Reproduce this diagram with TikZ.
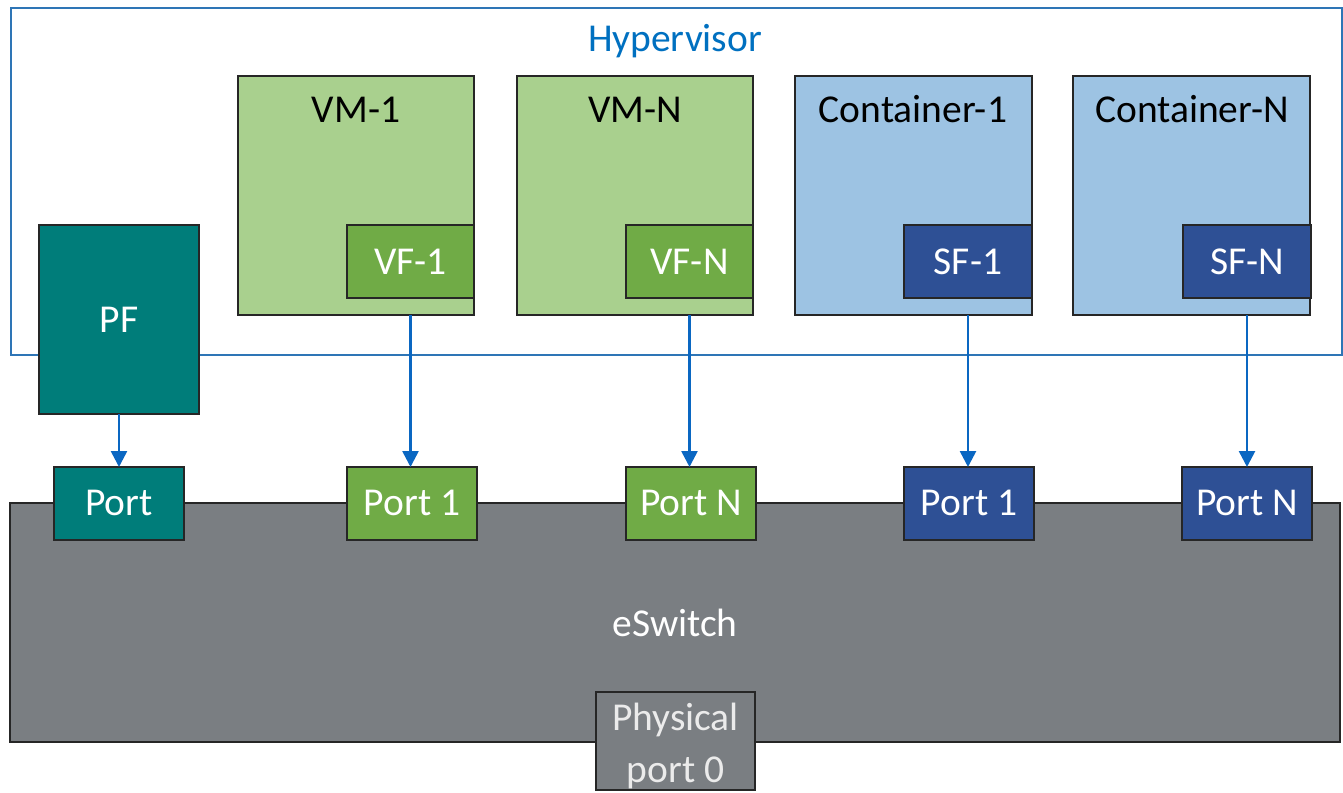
\documentclass[tikz,border=0pt]{standalone}
\usepackage{fontspec}
\setmainfont{Carlito}
\usetikzlibrary{arrows.meta}
\definecolor{hvblue}{HTML}{2E75B6}
\definecolor{hvtext}{HTML}{0070C0}
\definecolor{arrowblue}{HTML}{0A67C2}
\definecolor{vmfill}{HTML}{A9D08E}
\definecolor{vffill}{HTML}{70AB46}
\definecolor{ctfill}{HTML}{9DC3E3}
\definecolor{sffill}{HTML}{2E5095}
\definecolor{pffill}{HTML}{007D7A}
\definecolor{swfill}{HTML}{7A7E82}
\begin{document}
\begin{tikzpicture}[x=1pt,y=-1pt,
  font=\fontsize{39.5}{46}\selectfont,
  box/.style={draw=black!85, line width=1.5pt, inner sep=0pt, outer sep=0pt, anchor=north west},
  vmbox/.style={box, fill=vmfill, minimum width=236, minimum height=239},
  ctbox/.style={box, fill=ctfill, minimum width=237, minimum height=239},
  vfbox/.style={box, fill=vffill, minimum width=127, minimum height=73},
  sfbox/.style={box, fill=sffill, minimum width=128, minimum height=73},
  portbox/.style={box, minimum width=130, minimum height=73},
  lbl/.style={anchor=base, inner sep=0pt},
  wlbl/.style={lbl, text=white},
  conn/.style={draw=arrowblue, line width=2.6pt, -{Triangle[length=16pt,width=16pt]}}
]
\useasboundingbox (0,0) rectangle (1343,792);

% hypervisor frame
\node[draw=hvblue, line width=1.8pt, inner sep=0pt, anchor=north west, minimum width=1331, minimum height=347] (hv) at (10,7) {};
\node[lbl, text=hvtext] (hvlabel) at (675,52) {Hypervisor};

% eSwitch
\node[box, fill=swfill, minimum width=1330, minimum height=239] (esw) at (10,503) {};
\node[wlbl] (eswlabel) at (675,636) {eSwitch};

% VMs and containers
\node[vmbox] (vm1) at (238,76) {};
\node[lbl] (vm1l) at (356,122) {VM-1};
\node[vmbox] (vmn) at (517,76) {};
\node[lbl] (vmnl) at (635,122) {VM-N};
\node[ctbox] (ct1) at (795,76) {};
\node[lbl] (ct1l) at (913,122) {Container-1};
\node[ctbox] (ctn) at (1073,76) {};
\node[lbl] (ctnl) at (1192,122) {Container-N};

\node[vfbox] (vf1) at (347,225) {};
\node[wlbl] at (vf1.center |- 0,274) {VF-1};
\node[vfbox] (vfn) at (626,225) {};
\node[wlbl] at (vfn.center |- 0,274) {VF-N};
\node[sfbox] (sf1) at (904,225) {};
\node[wlbl] at (sf1.center |- 0,274) {SF-1};
\node[sfbox] (sfn) at (1183,225) {};
\node[wlbl] at (sfn.center |- 0,274) {SF-N};

% PF
\node[box, fill=pffill, minimum width=160, minimum height=189] (pf) at (39,225) {};
\node[wlbl] at (pf.center |- 0,332) {PF};

% ports
\node[portbox, fill=pffill] (p0) at (54,467) {};
\node[wlbl] at (p0.center |- 0,515) {Port};
\node[portbox, fill=vffill] (p1) at (347,467) {};
\node[wlbl] at (p1.center |- 0,515) {Port 1};
\node[portbox, fill=vffill] (p2) at (626,467) {};
\node[wlbl] at (p2.center |- 0,515) {Port N};
\node[portbox, fill=sffill] (p3) at (904,467) {};
\node[wlbl] at (p3.center |- 0,515) {Port 1};
\node[portbox, fill=sffill] (p4) at (1182,467) {};
\node[wlbl] at (p4.center |- 0,515) {Port N};

% physical port
\node[box, fill=swfill, minimum width=159, minimum height=98] (phy) at (596,692) {};
\node[wlbl, text=white!92!black, align=center, font=\fontsize{39.5}{52}\selectfont] (phyl) at (675.5,782) {Physical\\port 0};

% connectors
\draw[conn] (pf.south) -- (p0.north);
\draw[conn] (vm1.south -| vf1.south) -- (p1.north -| vf1.south);
\draw[conn] (vmn.south -| vfn.south) -- (p2.north -| vfn.south);
\draw[conn] (ct1.south -| sf1.south) -- (p3.north -| sf1.south);
\draw[conn] (ctn.south -| sfn.south) -- (p4.north -| sfn.south);
\end{tikzpicture}
\end{document}
